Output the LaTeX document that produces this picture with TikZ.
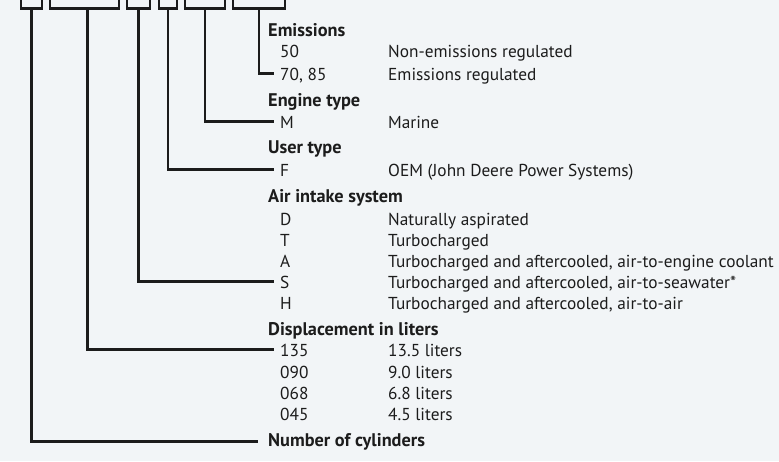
\documentclass[tikz,border=0pt]{standalone}
\usepackage{fontspec}
\setmainfont{PT Sans}
\usepackage{tikz}
\definecolor{paper}{RGB}{242,245,247}
\definecolor{ink}{RGB}{28,28,28}

\begin{document}
\begin{tikzpicture}[x=1pt, y=-1pt,
    every node/.style={font=\fontsize{17.3}{20}\selectfont, text=ink, inner sep=0pt, anchor=base west},
    codebox/.style={draw=ink, line width=2.6pt, minimum height=40pt, anchor=south west},
    lead/.style={draw=ink, line width=2.6pt},
    heading/.style={font=\fontsize{18.3}{20}\selectfont\bfseries},
    code/.style={text height=13pt, text depth=0pt}]
                \useasboundingbox (0,0) rectangle (779,461);
                \clip (0,0) rectangle (779,461);
                \fill[paper] (0,0) rectangle (779,461);

                % code boxes
                \node[codebox, minimum width=21pt] (cylbox) at (19.5,9.5) {};
                \node[codebox, minimum width=69pt] (dispbox) at (48.5,9.5) {};
                \node[codebox, minimum width=23pt] (airbox) at (125.5,9.5) {};
                \node[codebox, minimum width=18pt] (userbox) at (157.5,9.5) {};
                \node[codebox, minimum width=40pt] (enginebox) at (183.5,9.5) {};
                \node[codebox, minimum width=52pt] (emissbox) at (231.5,9.5) {};

                % emissions
                \node[heading] (emiss) at (268,36) {Emissions};
                \node[code] (e50) at (280,57) {50};
                \node (e50txt) at (388,57) {Non-emissions regulated};
                \node[code] (e70) at (280,80) {70, 85};
                \node (e70txt) at (388,80) {Emissions regulated};

                % engine type
                \node[heading] (engine) at (268,106) {Engine type};
                \node[code] (m) at (280,128) {M};
                \node (mtxt) at (388,128) {Marine};

                % user type
                \node[heading] (user) at (268,153) {User type};
                \node[code] (f) at (280,176) {F};
                \node (ftxt) at (388,176) {OEM (John Deere Power Systems)};

                % air intake
                \node[heading] (air) at (268,202) {Air intake system};
                \node[code] (d) at (280,225) {D};
                \node (dtxt) at (388,225) {Naturally aspirated};
                \node[code] (t) at (280,246) {T};
                \node (ttxt) at (388,246) {Turbocharged};
                \node[code] (a) at (280,267) {A};
                \node (atxt) at (388,267) {Turbocharged and aftercooled, air-to-engine coolant};
                \node[code] (s) at (280,288) {S};
                \node (stxt) at (388,288) {Turbocharged and aftercooled, air-to-seawater*};
                \node[code] (h) at (280,309) {H};
                \node (htxt) at (388,309) {Turbocharged and aftercooled, air-to-air};

                % displacement
                \node[heading] (disp) at (268,335) {Displacement in liters};
                \node[code] (d135) at (280,356) {135};
                \node (d135txt) at (388,356) {13.5 liters};
                \node[code] (d090) at (280,378) {090};
                \node (d090txt) at (388,378) {9.0 liters};
                \node[code] (d068) at (280,399) {068};
                \node (d068txt) at (388,399) {6.8 liters};
                \node[code] (d045) at (280,420) {045};
                \node (d045txt) at (388,420) {4.5 liters};

                % cylinders
                \node[heading] (cyl) at (268,446) {Number of cylinders};

                % leads
                \draw[lead, shorten >=6pt] (emissbox.south) |- (e70.west);
                \draw[lead, shorten >=6pt] (enginebox.south) |- (m.west);
                \draw[lead, shorten >=6pt] (userbox.south) |- (f.west);
                \draw[lead, shorten >=6pt] (airbox.south) |- (s.west);
                \draw[lead, shorten >=6pt] ([xshift=3pt]dispbox.south) |- (d135.west);
                \draw[lead, shorten >=10pt] (cylbox.south) |- (cyl.west);
            \end{tikzpicture}
\end{document}
